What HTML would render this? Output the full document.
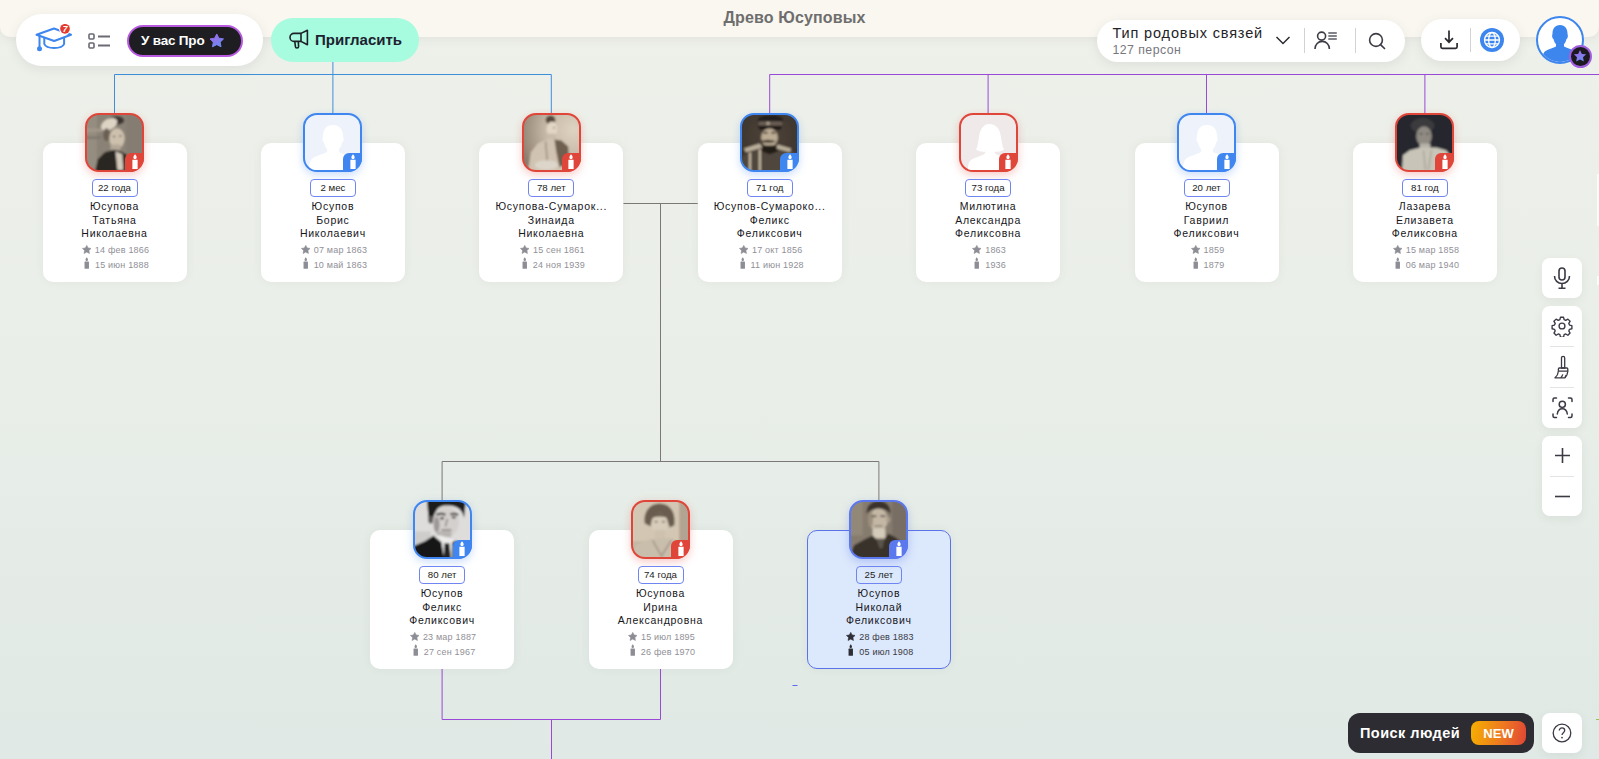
<!DOCTYPE html>
<html><head><meta charset="utf-8">
<style>
*{margin:0;padding:0;box-sizing:border-box}
html,body{width:1599px;height:759px;overflow:hidden}
body{position:relative;font-family:"Liberation Sans", sans-serif;background:linear-gradient(180deg,#eef0ea 0,#ebefe9 40%,#e0e9e5 100%);color:#1c1c22}
.abs{position:absolute}
#band{position:absolute;left:0;top:0;width:1599px;height:37px;background:#f9f7f0;border-radius:0 0 10px 10px;box-shadow:0 2px 10px rgba(120,120,100,.10)}
svg.lines{position:absolute;left:0;top:0}
svg.lines path{fill:none;stroke-width:1}
.card{position:absolute;width:144px;height:139px;background:#fff;border-radius:10px;box-shadow:0 0 10px rgba(90,100,90,.07)}
.card.sel{background:#dce8fc;border:1.5px solid #5b73ea}
.av{position:absolute;width:59px;height:59px;border:2px solid;border-radius:14px;overflow:hidden;background:#fff}
.ph{position:absolute;left:0;top:0;width:100%;height:100%}
.ph svg.sil{left:-2px!important;top:-2px!important}
.cb{position:absolute;width:19px;height:19px;border-radius:6px 0 14px 0}
.age{position:absolute;width:144px;height:17.5px;text-align:center;font-size:0;line-height:0}
.age span{display:inline-block;width:46px;height:17.5px;line-height:15.5px;padding:0;border:1px solid #6f86f2;border-radius:4px;font-size:9.7px;color:#1c1c22;background:#fff}
.nm{position:absolute;width:144px;text-align:center;font-size:10.5px;line-height:13.5px;letter-spacing:.75px;color:#16161b;white-space:nowrap}
.dt{position:absolute;width:144px;padding-left:2px;text-align:center;font-size:9px;letter-spacing:.2px;line-height:13px;color:#909097;white-space:nowrap}
.dt .ic{display:inline-block;vertical-align:-1px;margin-right:3.5px;color:#8d8d95}
.dt.dk{color:#3a3a44}
.dt.dk .ic{color:#2e2e36}
.pill{position:absolute;background:#fff;box-shadow:0 3px 12px rgba(80,90,80,.10)}
.tool{position:absolute;left:1542px;width:40px;background:#fff;border-radius:8px;box-shadow:0 3px 10px rgba(80,90,80,.08)}
.sep{position:absolute;left:8px;width:24px;height:1px;background:#e3e3e6}
</style></head><body>
<div id="band"></div>
<svg class="lines" width="1599" height="759">
<path d="M114.5 113V74.5H551.3V113M332.9 60V113" stroke="#3d8fda"/>
<path d="M769.7 113V74.5H1600M988.1 74.5V113M1206.5 74.5V113M1424.9 74.5V113" stroke="#9a49d6"/>
<path d="M623.5 203.5H697.7M660.5 203.5V461.5M442.1 500V461.5H878.9V500" stroke="#7d7878"/>
<path d="M442.1 669V719.5H660.5V669M551.5 719.5V760" stroke="#9a49d6"/>
<path d="M792.5 685.5H797.5" stroke="#5a6cf0"/>
</svg>
<div class="card" style="left:42.5px;top:143px"></div>
<div class="av" style="left:85.00px;top:113px;border-color:#e0453a;background:#e0453a;box-shadow:0 3px 9px rgba(224,69,58,.28)"><div class="ph"><svg width="100%" height="100%" viewBox="0 0 56 56" preserveAspectRatio="none" style="position:absolute;left:0;top:0"><defs><filter id="bp1" x="-10%" y="-10%" width="120%" height="120%"><feGaussianBlur stdDeviation="0.85"/></filter></defs><g filter="url(#bp1)"><rect x="-4" y="-4" width="64" height="64" fill="#8a8276"/><rect x="-4" y="-4" width="14" height="64" fill="#958d80"/><rect x="-4" y="14" width="20" height="3" fill="#a49a8c"/><rect x="-4" y="22" width="18" height="2" fill="#7a7268"/><rect x="40" y="-4" width="20" height="64" fill="#857d72"/><ellipse cx="30" cy="5.5" rx="8" ry="4.5" fill="#3e3630"/><ellipse cx="22.5" cy="9.5" rx="9" ry="5.5" transform="rotate(-28 22.5 9.5)" fill="#ddd4c4"/><ellipse cx="20" cy="20" rx="3.5" ry="6.5" fill="#6a5e52"/><ellipse cx="30.5" cy="24" rx="7.8" ry="10.5" fill="#cdc1ae"/><ellipse cx="27.5" cy="22" rx="1.3" ry=".8" fill="#5a5048"/><ellipse cx="34" cy="21.5" rx="1.3" ry=".8" fill="#5a5048"/><rect x="24" y="30" width="10" height="6" fill="#b4a898"/><path d="M8 58L11 45L18 38L27 35.5L34 37L40 40L44 47L45 58Z" fill="#2c2520"/><path d="M29 37L36 40L37 56L31 56L30 46Z" fill="#d3cabb"/></g></svg></div></div><div class="cb" style="left:125.00px;top:153px;background:#e0453a"><svg width="8" height="15" viewBox="0 0 6 12" style="position:absolute;left:5.5px;top:0.8px"><path d="M3 0.2c1 1.1 1.4 1.9 1.3 2.7-.1.7-.6 1.1-1.3 1.1S1.8 3.6 1.7 2.9C1.6 2.1 2.1 1.3 3 .2z" fill="#fff"/><rect x="0.9" y="4.6" width="4.2" height="7.4" fill="#fff"/></svg></div>
<div class="age" style="left:42.5px;top:179px"><span>22 года</span></div>
<div class="nm" style="left:42.5px;top:200px">Юсупова<br>Татьяна<br>Николаевна</div>
<div class="dt" style="left:42.5px;top:244px"><svg class="ic" width="9.5" height="9.5" viewBox="0 0 24 24"><path d="M12 1l3.4 6.6 7.4 1.1-5.4 5.2 1.3 7.4L12 17.8l-6.7 3.5 1.3-7.4-5.4-5.2 7.4-1.1z" fill="currentColor" stroke="currentColor" stroke-width="1.6" stroke-linejoin="round"/></svg><span>14 фев 1866</span></div>
<div class="dt" style="left:42.5px;top:256.5px"><svg class="ic" width="9.5" height="12" viewBox="-1.75 0 9.5 12"><path d="M3 0.3c.9 1 1.3 1.8 1.2 2.6-.1.7-.6 1.1-1.2 1.1S1.9 3.6 1.8 2.9C1.7 2.2 2.2 1.3 3 .3z" fill="currentColor"/><rect x="0.8" y="4.6" width="4.4" height="7.2" rx=".6" fill="currentColor"/></svg><span>15 июн 1888</span></div>
<div class="card" style="left:260.9px;top:143px"></div>
<div class="av" style="left:303.40px;top:113px;border-color:#3f86f0;background:#3f86f0;box-shadow:0 3px 9px rgba(63,134,240,.28)"><div class="ph" style="background:#eef3fb"><svg class="sil" width="60" height="60" viewBox="0 0 60 60" style="position:absolute;left:0;top:0"><path d="M30 12c6.5 0 10 4.8 10 11 0 1.5.9 1.7.6 3.8-.3 2-1 2.3-1.5 2.6-.7 3.2-1.8 5.3-3.1 6.6v3c2.8 1.9 8.5 3 12.5 5 3.5 1.8 5.6 4 6.1 16H5.5c.5-12 2.6-14.2 6.1-16 4-2 9.7-3.1 12.5-5v-3c-1.3-1.3-2.4-3.4-3.1-6.6-.5-.3-1.2-.6-1.5-2.6-.3-2.1.6-2.3.6-3.8C20 16.8 23.5 12 30 12z" fill="#fff"/></svg></div></div><div class="cb" style="left:343.40px;top:153px;background:#3f86f0"><svg width="8" height="15" viewBox="0 0 6 12" style="position:absolute;left:5.5px;top:0.8px"><path d="M3 0.2c1 1.1 1.4 1.9 1.3 2.7-.1.7-.6 1.1-1.3 1.1S1.8 3.6 1.7 2.9C1.6 2.1 2.1 1.3 3 .2z" fill="#fff"/><rect x="0.9" y="4.6" width="4.2" height="7.4" fill="#fff"/></svg></div>
<div class="age" style="left:260.9px;top:179px"><span>2 мес</span></div>
<div class="nm" style="left:260.9px;top:200px">Юсупов<br>Борис<br>Николаевич</div>
<div class="dt" style="left:260.9px;top:244px"><svg class="ic" width="9.5" height="9.5" viewBox="0 0 24 24"><path d="M12 1l3.4 6.6 7.4 1.1-5.4 5.2 1.3 7.4L12 17.8l-6.7 3.5 1.3-7.4-5.4-5.2 7.4-1.1z" fill="currentColor" stroke="currentColor" stroke-width="1.6" stroke-linejoin="round"/></svg><span>07 мар 1863</span></div>
<div class="dt" style="left:260.9px;top:256.5px"><svg class="ic" width="9.5" height="12" viewBox="-1.75 0 9.5 12"><path d="M3 0.3c.9 1 1.3 1.8 1.2 2.6-.1.7-.6 1.1-1.2 1.1S1.9 3.6 1.8 2.9C1.7 2.2 2.2 1.3 3 .3z" fill="currentColor"/><rect x="0.8" y="4.6" width="4.4" height="7.2" rx=".6" fill="currentColor"/></svg><span>10 май 1863</span></div>
<div class="card" style="left:479.3px;top:143px"></div>
<div class="av" style="left:521.80px;top:113px;border-color:#e0453a;background:#e0453a;box-shadow:0 3px 9px rgba(224,69,58,.28)"><div class="ph"><svg width="100%" height="100%" viewBox="0 0 56 56" preserveAspectRatio="none" style="position:absolute;left:0;top:0"><defs><filter id="bp3" x="-10%" y="-10%" width="120%" height="120%"><feGaussianBlur stdDeviation="0.85"/></filter></defs><g filter="url(#bp3)"><defs><radialGradient id="g3" cx="0.85" cy="0.3" r="0.9"><stop offset="0" stop-color="#dfd3c2"/><stop offset=".5" stop-color="#c6b8a6"/><stop offset="1" stop-color="#8a7b6c"/></radialGradient></defs><rect x="-4" y="-4" width="64" height="64" fill="url(#g3)"/><ellipse cx="27" cy="5" rx="5" ry="4.5" fill="#54473b"/><ellipse cx="28.5" cy="14.5" rx="5.5" ry="8" fill="#e2d6c4"/><ellipse cx="30.5" cy="13" rx="1" ry=".7" fill="#7a6c5e"/><rect x="24" y="19" width="8" height="8" fill="#c9bca9"/><path d="M4 58L7 38L14 29L25 24L37 25L45 32L46 58Z" fill="#d0c3b1"/><path d="M31 25L38 26L45 32L46 50L36 53L33 38Z" fill="#6e5e50"/><path d="M22 27L24 50" stroke="#9e8e7e" stroke-width="1.5"/><ellipse cx="23" cy="51" rx="12" ry="5" fill="#ddd5ca"/></g></svg></div></div><div class="cb" style="left:561.80px;top:153px;background:#e0453a"><svg width="8" height="15" viewBox="0 0 6 12" style="position:absolute;left:5.5px;top:0.8px"><path d="M3 0.2c1 1.1 1.4 1.9 1.3 2.7-.1.7-.6 1.1-1.3 1.1S1.8 3.6 1.7 2.9C1.6 2.1 2.1 1.3 3 .2z" fill="#fff"/><rect x="0.9" y="4.6" width="4.2" height="7.4" fill="#fff"/></svg></div>
<div class="age" style="left:479.3px;top:179px"><span>78 лет</span></div>
<div class="nm" style="left:479.3px;top:200px">Юсупова-Сумарок...<br>Зинаида<br>Николаевна</div>
<div class="dt" style="left:479.3px;top:244px"><svg class="ic" width="9.5" height="9.5" viewBox="0 0 24 24"><path d="M12 1l3.4 6.6 7.4 1.1-5.4 5.2 1.3 7.4L12 17.8l-6.7 3.5 1.3-7.4-5.4-5.2 7.4-1.1z" fill="currentColor" stroke="currentColor" stroke-width="1.6" stroke-linejoin="round"/></svg><span>15 сен 1861</span></div>
<div class="dt" style="left:479.3px;top:256.5px"><svg class="ic" width="9.5" height="12" viewBox="-1.75 0 9.5 12"><path d="M3 0.3c.9 1 1.3 1.8 1.2 2.6-.1.7-.6 1.1-1.2 1.1S1.9 3.6 1.8 2.9C1.7 2.2 2.2 1.3 3 .3z" fill="currentColor"/><rect x="0.8" y="4.6" width="4.4" height="7.2" rx=".6" fill="currentColor"/></svg><span>24 ноя 1939</span></div>
<div class="card" style="left:697.7px;top:143px"></div>
<div class="av" style="left:740.20px;top:113px;border-color:#3f86f0;background:#3f86f0;box-shadow:0 3px 9px rgba(63,134,240,.28)"><div class="ph"><svg width="100%" height="100%" viewBox="0 0 56 56" preserveAspectRatio="none" style="position:absolute;left:0;top:0"><defs><filter id="bp4" x="-10%" y="-10%" width="120%" height="120%"><feGaussianBlur stdDeviation="0.85"/></filter></defs><g filter="url(#bp4)"><defs><radialGradient id="g4" cx="0.5" cy="0.4" r="0.8"><stop offset="0" stop-color="#4e443a"/><stop offset="1" stop-color="#352d27"/></radialGradient></defs><rect x="-4" y="-4" width="64" height="64" fill="url(#g4)"/><path d="M-2 58L0 42L14 34L27 32L42 33L56 39L58 58Z" fill="#50463c"/><ellipse cx="29" cy="5" rx="13" ry="5" fill="#241f1b"/><rect x="17" y="6.5" width="24" height="4.5" fill="#6a5e54"/><circle cx="26.5" cy="8.5" r="1.6" fill="#b8ac98"/><path d="M16 11H41L39 15H18Z" fill="#1b1713"/><ellipse cx="28" cy="23" rx="8.5" ry="9.5" fill="#bcac94"/><ellipse cx="24" cy="18" rx="2.5" ry="1" fill="#4a3e34"/><ellipse cx="32" cy="18" rx="2.5" ry="1" fill="#4a3e34"/><path d="M18 27Q26 23.5 35 27Q27 29.5 18 27Z" fill="#3a3028"/><path d="M20 31L36 31L37 37L28 40L20 37Z" fill="#201a16"/><path d="M2 34L18 29L21 33L4 38Z" fill="#bcb09b"/><path d="M36 30L50 34L49 38L35 34Z" fill="#bcb09b"/><rect x="7" y="38" width="2.3" height="19" fill="#c4b7a3"/><rect x="17" y="35" width="2.3" height="22" fill="#c4b7a3"/></g></svg></div></div><div class="cb" style="left:780.20px;top:153px;background:#3f86f0"><svg width="8" height="15" viewBox="0 0 6 12" style="position:absolute;left:5.5px;top:0.8px"><path d="M3 0.2c1 1.1 1.4 1.9 1.3 2.7-.1.7-.6 1.1-1.3 1.1S1.8 3.6 1.7 2.9C1.6 2.1 2.1 1.3 3 .2z" fill="#fff"/><rect x="0.9" y="4.6" width="4.2" height="7.4" fill="#fff"/></svg></div>
<div class="age" style="left:697.7px;top:179px"><span>71 год</span></div>
<div class="nm" style="left:697.7px;top:200px">Юсупов-Сумароко...<br>Феликс<br>Феликсович</div>
<div class="dt" style="left:697.7px;top:244px"><svg class="ic" width="9.5" height="9.5" viewBox="0 0 24 24"><path d="M12 1l3.4 6.6 7.4 1.1-5.4 5.2 1.3 7.4L12 17.8l-6.7 3.5 1.3-7.4-5.4-5.2 7.4-1.1z" fill="currentColor" stroke="currentColor" stroke-width="1.6" stroke-linejoin="round"/></svg><span>17 окт 1856</span></div>
<div class="dt" style="left:697.7px;top:256.5px"><svg class="ic" width="9.5" height="12" viewBox="-1.75 0 9.5 12"><path d="M3 0.3c.9 1 1.3 1.8 1.2 2.6-.1.7-.6 1.1-1.2 1.1S1.9 3.6 1.8 2.9C1.7 2.2 2.2 1.3 3 .3z" fill="currentColor"/><rect x="0.8" y="4.6" width="4.4" height="7.2" rx=".6" fill="currentColor"/></svg><span>11 июн 1928</span></div>
<div class="card" style="left:916.1px;top:143px"></div>
<div class="av" style="left:958.60px;top:113px;border-color:#e0453a;background:#e0453a;box-shadow:0 3px 9px rgba(224,69,58,.28)"><div class="ph" style="background:#f0e9ea"><svg class="sil" width="60" height="60" viewBox="0 0 60 60" style="position:absolute;left:0;top:0"><path d="M30 11c7.5 0 11 5.5 12 13 .8 5.5 1.5 10 3 12.5-2.5 2-6.5 2.3-9.5 2.3.3 1.5 1 2.2 2.5 3 3.5 1.6 9 3 12 5.3 2.5 2 3 5 3.2 14H8.8c.2-9 .7-12 3.2-14 3-2.3 8.5-3.7 12-5.3 1.5-.8 2.2-1.5 2.5-3-3 0-7-.3-9.5-2.3 1.5-2.5 2.2-7 3-12.5 1-7.5 4.5-13 10-13z" fill="#fff"/></svg></div></div><div class="cb" style="left:998.60px;top:153px;background:#e0453a"><svg width="8" height="15" viewBox="0 0 6 12" style="position:absolute;left:5.5px;top:0.8px"><path d="M3 0.2c1 1.1 1.4 1.9 1.3 2.7-.1.7-.6 1.1-1.3 1.1S1.8 3.6 1.7 2.9C1.6 2.1 2.1 1.3 3 .2z" fill="#fff"/><rect x="0.9" y="4.6" width="4.2" height="7.4" fill="#fff"/></svg></div>
<div class="age" style="left:916.1px;top:179px"><span>73 года</span></div>
<div class="nm" style="left:916.1px;top:200px">Милютина<br>Александра<br>Феликсовна</div>
<div class="dt" style="left:916.1px;top:244px"><svg class="ic" width="9.5" height="9.5" viewBox="0 0 24 24"><path d="M12 1l3.4 6.6 7.4 1.1-5.4 5.2 1.3 7.4L12 17.8l-6.7 3.5 1.3-7.4-5.4-5.2 7.4-1.1z" fill="currentColor" stroke="currentColor" stroke-width="1.6" stroke-linejoin="round"/></svg><span>1863</span></div>
<div class="dt" style="left:916.1px;top:256.5px"><svg class="ic" width="9.5" height="12" viewBox="-1.75 0 9.5 12"><path d="M3 0.3c.9 1 1.3 1.8 1.2 2.6-.1.7-.6 1.1-1.2 1.1S1.9 3.6 1.8 2.9C1.7 2.2 2.2 1.3 3 .3z" fill="currentColor"/><rect x="0.8" y="4.6" width="4.4" height="7.2" rx=".6" fill="currentColor"/></svg><span>1936</span></div>
<div class="card" style="left:1134.5px;top:143px"></div>
<div class="av" style="left:1177.00px;top:113px;border-color:#3f86f0;background:#3f86f0;box-shadow:0 3px 9px rgba(63,134,240,.28)"><div class="ph" style="background:#eef3fb"><svg class="sil" width="60" height="60" viewBox="0 0 60 60" style="position:absolute;left:0;top:0"><path d="M30 12c6.5 0 10 4.8 10 11 0 1.5.9 1.7.6 3.8-.3 2-1 2.3-1.5 2.6-.7 3.2-1.8 5.3-3.1 6.6v3c2.8 1.9 8.5 3 12.5 5 3.5 1.8 5.6 4 6.1 16H5.5c.5-12 2.6-14.2 6.1-16 4-2 9.7-3.1 12.5-5v-3c-1.3-1.3-2.4-3.4-3.1-6.6-.5-.3-1.2-.6-1.5-2.6-.3-2.1.6-2.3.6-3.8C20 16.8 23.5 12 30 12z" fill="#fff"/></svg></div></div><div class="cb" style="left:1217.00px;top:153px;background:#3f86f0"><svg width="8" height="15" viewBox="0 0 6 12" style="position:absolute;left:5.5px;top:0.8px"><path d="M3 0.2c1 1.1 1.4 1.9 1.3 2.7-.1.7-.6 1.1-1.3 1.1S1.8 3.6 1.7 2.9C1.6 2.1 2.1 1.3 3 .2z" fill="#fff"/><rect x="0.9" y="4.6" width="4.2" height="7.4" fill="#fff"/></svg></div>
<div class="age" style="left:1134.5px;top:179px"><span>20 лет</span></div>
<div class="nm" style="left:1134.5px;top:200px">Юсупов<br>Гавриил<br>Феликсович</div>
<div class="dt" style="left:1134.5px;top:244px"><svg class="ic" width="9.5" height="9.5" viewBox="0 0 24 24"><path d="M12 1l3.4 6.6 7.4 1.1-5.4 5.2 1.3 7.4L12 17.8l-6.7 3.5 1.3-7.4-5.4-5.2 7.4-1.1z" fill="currentColor" stroke="currentColor" stroke-width="1.6" stroke-linejoin="round"/></svg><span>1859</span></div>
<div class="dt" style="left:1134.5px;top:256.5px"><svg class="ic" width="9.5" height="12" viewBox="-1.75 0 9.5 12"><path d="M3 0.3c.9 1 1.3 1.8 1.2 2.6-.1.7-.6 1.1-1.2 1.1S1.9 3.6 1.8 2.9C1.7 2.2 2.2 1.3 3 .3z" fill="currentColor"/><rect x="0.8" y="4.6" width="4.4" height="7.2" rx=".6" fill="currentColor"/></svg><span>1879</span></div>
<div class="card" style="left:1352.9px;top:143px"></div>
<div class="av" style="left:1395.40px;top:113px;border-color:#e0453a;background:#e0453a;box-shadow:0 3px 9px rgba(224,69,58,.28)"><div class="ph"><svg width="100%" height="100%" viewBox="0 0 56 56" preserveAspectRatio="none" style="position:absolute;left:0;top:0"><defs><filter id="bp7" x="-10%" y="-10%" width="120%" height="120%"><feGaussianBlur stdDeviation="0.85"/></filter></defs><g filter="url(#bp7)"><rect x="-4" y="-4" width="64" height="64" fill="#25282f"/><ellipse cx="26" cy="11" rx="12" ry="8" fill="#3a3a3c"/><ellipse cx="27.5" cy="21.5" rx="8" ry="10" fill="#8f8a82"/><ellipse cx="24.5" cy="19" rx="1.6" ry=".8" fill="#4a4642"/><ellipse cx="31" cy="19" rx="1.6" ry=".8" fill="#4a4642"/><rect x="23" y="29" width="11" height="8" fill="#b6b2a8"/><path d="M5 58L6 41L13 36L24 33L40 33L50 36L54 41L54 58Z" fill="#c8c4b8"/><path d="M27 36L29 56M35 36L32 56" stroke="#9a968c" stroke-width="1"/></g></svg></div></div><div class="cb" style="left:1435.40px;top:153px;background:#e0453a"><svg width="8" height="15" viewBox="0 0 6 12" style="position:absolute;left:5.5px;top:0.8px"><path d="M3 0.2c1 1.1 1.4 1.9 1.3 2.7-.1.7-.6 1.1-1.3 1.1S1.8 3.6 1.7 2.9C1.6 2.1 2.1 1.3 3 .2z" fill="#fff"/><rect x="0.9" y="4.6" width="4.2" height="7.4" fill="#fff"/></svg></div>
<div class="age" style="left:1352.9px;top:179px"><span>81 год</span></div>
<div class="nm" style="left:1352.9px;top:200px">Лазарева<br>Елизавета<br>Феликсовна</div>
<div class="dt" style="left:1352.9px;top:244px"><svg class="ic" width="9.5" height="9.5" viewBox="0 0 24 24"><path d="M12 1l3.4 6.6 7.4 1.1-5.4 5.2 1.3 7.4L12 17.8l-6.7 3.5 1.3-7.4-5.4-5.2 7.4-1.1z" fill="currentColor" stroke="currentColor" stroke-width="1.6" stroke-linejoin="round"/></svg><span>15 мар 1858</span></div>
<div class="dt" style="left:1352.9px;top:256.5px"><svg class="ic" width="9.5" height="12" viewBox="-1.75 0 9.5 12"><path d="M3 0.3c.9 1 1.3 1.8 1.2 2.6-.1.7-.6 1.1-1.2 1.1S1.9 3.6 1.8 2.9C1.7 2.2 2.2 1.3 3 .3z" fill="currentColor"/><rect x="0.8" y="4.6" width="4.4" height="7.2" rx=".6" fill="currentColor"/></svg><span>06 мар 1940</span></div>
<div class="card" style="left:370.1px;top:530px"></div>
<div class="av" style="left:412.60px;top:500px;border-color:#3f86f0;background:#3f86f0;box-shadow:0 3px 9px rgba(63,134,240,.28)"><div class="ph"><svg width="100%" height="100%" viewBox="0 0 56 56" preserveAspectRatio="none" style="position:absolute;left:0;top:0"><defs><filter id="bp8" x="-10%" y="-10%" width="120%" height="120%"><feGaussianBlur stdDeviation="0.85"/></filter></defs><g filter="url(#bp8)"><rect x="-4" y="-4" width="64" height="64" fill="#dfdddc"/><rect x="-4" y="30" width="20" height="30" fill="#cfcdcc"/><path d="M12 -3L52 -3L50 16C48 8 44 3.5 32 3.5C24 3.5 20 8 18 20L14 19Z" fill="#1c1a1a"/><ellipse cx="16" cy="18" rx="2.5" ry="4" fill="#5e5a5a"/><ellipse cx="32" cy="20" rx="13" ry="15.5" fill="#d4d0ce"/><ellipse cx="22" cy="23" rx="3" ry="8" fill="#9c9897"/><path d="M22 13Q27 11 31 13M36 12.5Q40 11 44 13" stroke="#2a2626" stroke-width="2" fill="none"/><ellipse cx="27.5" cy="16.5" rx="2" ry="1.2" fill="#3a3636"/><ellipse cx="39.5" cy="15.5" rx="2" ry="1.2" fill="#4a4646"/><path d="M33 17L31 25" stroke="#8a8686" stroke-width="1.5"/><path d="M27 28.5H37" stroke="#6a6666" stroke-width="1.2"/><rect x="22" y="30" width="15" height="6" fill="#b8b4b2"/><path d="M-2 58L-2 45L10 40L19 34L27 40L30 58Z" fill="#131313"/><path d="M19 34L26 34L40 38L42 40L40 58L30 58L27 41Z" fill="#ecebea"/><path d="M38 41L42 39L44 58L38 58Z" fill="#131313"/><path d="M30 42L35 42L37 58L29 58Z" fill="#242222"/></g></svg></div></div><div class="cb" style="left:452.60px;top:540px;background:#3f86f0"><svg width="8" height="15" viewBox="0 0 6 12" style="position:absolute;left:5.5px;top:0.8px"><path d="M3 0.2c1 1.1 1.4 1.9 1.3 2.7-.1.7-.6 1.1-1.3 1.1S1.8 3.6 1.7 2.9C1.6 2.1 2.1 1.3 3 .2z" fill="#fff"/><rect x="0.9" y="4.6" width="4.2" height="7.4" fill="#fff"/></svg></div>
<div class="age" style="left:370.1px;top:566px"><span>80 лет</span></div>
<div class="nm" style="left:370.1px;top:587px">Юсупов<br>Феликс<br>Феликсович</div>
<div class="dt" style="left:370.1px;top:631px"><svg class="ic" width="9.5" height="9.5" viewBox="0 0 24 24"><path d="M12 1l3.4 6.6 7.4 1.1-5.4 5.2 1.3 7.4L12 17.8l-6.7 3.5 1.3-7.4-5.4-5.2 7.4-1.1z" fill="currentColor" stroke="currentColor" stroke-width="1.6" stroke-linejoin="round"/></svg><span>23 мар 1887</span></div>
<div class="dt" style="left:370.1px;top:643.5px"><svg class="ic" width="9.5" height="12" viewBox="-1.75 0 9.5 12"><path d="M3 0.3c.9 1 1.3 1.8 1.2 2.6-.1.7-.6 1.1-1.2 1.1S1.9 3.6 1.8 2.9C1.7 2.2 2.2 1.3 3 .3z" fill="currentColor"/><rect x="0.8" y="4.6" width="4.4" height="7.2" rx=".6" fill="currentColor"/></svg><span>27 сен 1967</span></div>
<div class="card" style="left:588.5px;top:530px"></div>
<div class="av" style="left:631.00px;top:500px;border-color:#e0453a;background:#e0453a;box-shadow:0 3px 9px rgba(224,69,58,.28)"><div class="ph"><svg width="100%" height="100%" viewBox="0 0 56 56" preserveAspectRatio="none" style="position:absolute;left:0;top:0"><defs><filter id="bp9" x="-10%" y="-10%" width="120%" height="120%"><feGaussianBlur stdDeviation="0.85"/></filter></defs><g filter="url(#bp9)"><rect x="-4" y="-4" width="64" height="64" fill="#d3c7b4"/><rect x="47" y="-4" width="13" height="64" fill="#b2a492"/><rect x="-4" y="40" width="20" height="20" fill="#c2b6a3"/><path d="M12 22C10 12 16 1.5 27 1.5C38 1.5 44 11 42 24L37 26C36 19 33 15 27 15C21 15 19 19 18 25Z" fill="#6a5d4f"/><ellipse cx="27" cy="22" rx="8.5" ry="11" fill="#d8ccba"/><path d="M17 15C20 10 34 10 38 15L36 17C32 14 22 14 19 17Z" fill="#6a5d4f"/><ellipse cx="23.5" cy="20" rx="1.6" ry=".9" fill="#7a6e62"/><ellipse cx="31" cy="20" rx="1.6" ry=".9" fill="#7a6e62"/><rect x="22" y="28" width="11" height="10" fill="#cec2af"/><path d="M0 58L2 44L16 38L40 37L54 44L58 58Z" fill="#c9bdab"/><path d="M20 39L29 55L39 39" fill="none" stroke="#a4968a" stroke-width="1.6"/></g></svg></div></div><div class="cb" style="left:671.00px;top:540px;background:#e0453a"><svg width="8" height="15" viewBox="0 0 6 12" style="position:absolute;left:5.5px;top:0.8px"><path d="M3 0.2c1 1.1 1.4 1.9 1.3 2.7-.1.7-.6 1.1-1.3 1.1S1.8 3.6 1.7 2.9C1.6 2.1 2.1 1.3 3 .2z" fill="#fff"/><rect x="0.9" y="4.6" width="4.2" height="7.4" fill="#fff"/></svg></div>
<div class="age" style="left:588.5px;top:566px"><span>74 года</span></div>
<div class="nm" style="left:588.5px;top:587px">Юсупова<br>Ирина<br>Александровна</div>
<div class="dt" style="left:588.5px;top:631px"><svg class="ic" width="9.5" height="9.5" viewBox="0 0 24 24"><path d="M12 1l3.4 6.6 7.4 1.1-5.4 5.2 1.3 7.4L12 17.8l-6.7 3.5 1.3-7.4-5.4-5.2 7.4-1.1z" fill="currentColor" stroke="currentColor" stroke-width="1.6" stroke-linejoin="round"/></svg><span>15 июл 1895</span></div>
<div class="dt" style="left:588.5px;top:643.5px"><svg class="ic" width="9.5" height="12" viewBox="-1.75 0 9.5 12"><path d="M3 0.3c.9 1 1.3 1.8 1.2 2.6-.1.7-.6 1.1-1.2 1.1S1.9 3.6 1.8 2.9C1.7 2.2 2.2 1.3 3 .3z" fill="currentColor"/><rect x="0.8" y="4.6" width="4.4" height="7.2" rx=".6" fill="currentColor"/></svg><span>26 фев 1970</span></div>
<div class="card sel" style="left:806.9px;top:530px"></div>
<div class="av" style="left:849.40px;top:500px;border-color:#5b78ee;background:#5b78ee;box-shadow:0 3px 9px rgba(91,120,238,.35)"><div class="ph"><svg width="100%" height="100%" viewBox="0 0 56 56" preserveAspectRatio="none" style="position:absolute;left:0;top:0"><defs><filter id="bp10" x="-10%" y="-10%" width="120%" height="120%"><feGaussianBlur stdDeviation="0.85"/></filter></defs><g filter="url(#bp10)"><rect x="-4" y="-4" width="64" height="64" fill="#867c6e"/><rect x="-4" y="-4" width="16" height="38" fill="#928879"/><rect x="42" y="-4" width="18" height="64" fill="#786e63"/><path d="M16 12C15 4 21 -1 28 -1C36 -1 41 4 40 12L37 9C33 6 23 6 19 9Z" fill="#3a332d"/><ellipse cx="28" cy="18" rx="9.5" ry="11.5" fill="#c4b8a5"/><ellipse cx="38" cy="18" rx="2" ry="3" fill="#a89c8a"/><ellipse cx="20" cy="18" rx="2.5" ry="8" fill="#9c907e"/><path d="M21 14.5H26M30 14.5H35" stroke="#4a4038" stroke-width="1.5"/><path d="M24 24.5H32" stroke="#6a5e52" stroke-width="1"/><rect x="22" y="27" width="13" height="10" fill="#d4cbba"/><path d="M-2 58L3 44L14 38L22 34L27 39L30 47L34 38L38 32L45 36L53 42L58 58Z" fill="#38322c"/><path d="M26 38L34 38L32 47L29 47Z" fill="#5a544c"/></g></svg></div></div><div class="cb" style="left:889.40px;top:540px;background:#5b78ee"><svg width="8" height="15" viewBox="0 0 6 12" style="position:absolute;left:5.5px;top:0.8px"><path d="M3 0.2c1 1.1 1.4 1.9 1.3 2.7-.1.7-.6 1.1-1.3 1.1S1.8 3.6 1.7 2.9C1.6 2.1 2.1 1.3 3 .2z" fill="#fff"/><rect x="0.9" y="4.6" width="4.2" height="7.4" fill="#fff"/></svg></div>
<div class="age" style="left:806.9px;top:566px"><span style=background:transparent>25 лет</span></div>
<div class="nm" style="left:806.9px;top:587px">Юсупов<br>Николай<br>Феликсович</div>
<div class="dt dk" style="left:806.9px;top:631px"><svg class="ic" width="9.5" height="9.5" viewBox="0 0 24 24"><path d="M12 1l3.4 6.6 7.4 1.1-5.4 5.2 1.3 7.4L12 17.8l-6.7 3.5 1.3-7.4-5.4-5.2 7.4-1.1z" fill="currentColor" stroke="currentColor" stroke-width="1.6" stroke-linejoin="round"/></svg><span>28 фев 1883</span></div>
<div class="dt dk" style="left:806.9px;top:643.5px"><svg class="ic" width="9.5" height="12" viewBox="-1.75 0 9.5 12"><path d="M3 0.3c.9 1 1.3 1.8 1.2 2.6-.1.7-.6 1.1-1.2 1.1S1.9 3.6 1.8 2.9C1.7 2.2 2.2 1.3 3 .3z" fill="currentColor"/><rect x="0.8" y="4.6" width="4.4" height="7.2" rx=".6" fill="currentColor"/></svg><span>05 июл 1908</span></div>

<!-- header title -->
<div class="abs" style="left:0;top:9px;width:1589px;text-align:center;font-size:16px;font-weight:bold;color:#6e6e6e;letter-spacing:.15px">Древо Юсуповых</div>

<!-- left pill -->
<div class="pill" style="left:16px;top:14px;width:247px;height:52px;border-radius:26px"></div>
<svg class="abs" style="left:34px;top:24px" width="42" height="30" viewBox="0 0 42 30">
  <g fill="none" stroke="#3d86ee" stroke-width="2" stroke-linejoin="round" stroke-linecap="round"><path d="M2.5 10.8L20 4.5l17 6.3-16.8 6.2z"/>
  <path d="M10.3 14v6c1 2.5 5 4 9.9 4s8.9-1.5 9.9-4v-6"/>
  <path d="M5.5 11.5v12"/></g>
  <circle cx="5.5" cy="24.8" r="2.5" fill="#3d86ee"/>
  <circle cx="31" cy="4.8" r="6" fill="#fff"/>
  <circle cx="31" cy="4.8" r="4.85" fill="#e33b2f"/>
  <text x="31" y="8.3" text-anchor="middle" font-family="Liberation Sans" font-weight="bold" font-style="italic" font-size="8.5" fill="#fff">7</text>
</svg>
<svg class="abs" style="left:88px;top:33px" width="23" height="17" viewBox="0 0 23 17">
  <rect x="1" y="1" width="5" height="5" rx="1" fill="none" stroke="#6a6a74" stroke-width="1.6"/>
  <rect x="1" y="10" width="5" height="5" rx="1" fill="none" stroke="#6a6a74" stroke-width="1.6"/>
  <path d="M10 3.5h12M10 12.5h12" stroke="#6a6a74" stroke-width="1.8"/>
</svg>
<div class="abs" style="left:127px;top:25px;width:116px;height:31.5px;border-radius:16px;background:#1e1d22;border:2px solid #b85ae0"></div>
<div class="abs" style="left:141px;top:33px;font-size:13.5px;font-weight:bold;color:#fff;letter-spacing:-.2px">У вас Про</div>
<svg class="abs" style="left:209px;top:33px" width="15.5" height="15.5" viewBox="0 0 24 24"><defs><linearGradient id="sg" x1="0" y1="0" x2=".6" y2="1"><stop offset="0" stop-color="#a763e6"/><stop offset="1" stop-color="#6f8af2"/></linearGradient></defs><path d="M12 1.5l3.3 6.6 7.2 1-5.2 5.1 1.3 7.2L12 18l-6.6 3.4 1.3-7.2-5.2-5.1 7.2-1z" fill="url(#sg)" stroke="url(#sg)" stroke-width="1.5" stroke-linejoin="round"/></svg>

<!-- invite -->
<div class="abs" style="left:271px;top:18px;width:148px;height:44px;border-radius:22px;background:#a7fbdf"></div>
<svg class="abs" style="left:289px;top:29px" width="21" height="21" viewBox="0 0 21 21">
  <g fill="none" stroke="#1d2126" stroke-width="1.6" stroke-linejoin="round"><path d="M5 4.4H12V12.4H5A4 4 0 0 1 5 4.4z"/><path d="M12 4.4L18.4 1.3V15.8L12 12.4"/><path d="M5.8 12.6L6.4 17.4A1.6 1.6 0 0 0 9.6 17.4L9.3 12.6"/></g>
</svg>
<div class="abs" style="left:315px;top:31px;font-size:15px;font-weight:bold;color:#1d2230">Пригласить</div>

<!-- right header pill -->
<div class="pill" style="left:1097px;top:20px;width:308px;height:42px;border-radius:21px"></div>
<div class="abs" style="left:1112.5px;top:25.2px;font-size:14.5px;letter-spacing:.85px;color:#232328;white-space:nowrap">Тип родовых связей</div>
<div class="abs" style="left:1112.5px;top:43px;font-size:12.3px;letter-spacing:.45px;color:#77777e;white-space:nowrap">127 персон</div>
<svg class="abs" style="left:1275px;top:35px" width="16" height="11" viewBox="0 0 16 11"><path d="M1.5 2l6.5 6.5L14.5 2" fill="none" stroke="#2a2a30" stroke-width="1.5"/></svg>
<div class="abs" style="left:1304px;top:28px;width:1px;height:25px;background:#d2d2d6"></div>
<svg class="abs" style="left:1313px;top:30px" width="26" height="20" viewBox="0 0 26 20">
  <circle cx="8.6" cy="6.1" r="4" fill="none" stroke="#3c3c46" stroke-width="1.6"/>
  <path d="M2 19c0-4.6 3.2-7.6 7.2-7.6s7.2 3 7.2 7.6" fill="none" stroke="#3c3c46" stroke-width="1.6"/>
  <path d="M15.3 3h8.5M15.3 6h8.5M15.3 9h8.5" stroke="#5a5a64" stroke-width="1.7"/>
</svg>
<div class="abs" style="left:1355px;top:28px;width:1px;height:25px;background:#d2d2d6"></div>
<svg class="abs" style="left:1367px;top:32px" width="19" height="18" viewBox="0 0 19 18"><circle cx="9" cy="8" r="6.4" fill="none" stroke="#3c3c46" stroke-width="1.6"/><path d="M13.5 12.7l4 3.8" stroke="#3c3c46" stroke-width="1.7" stroke-linecap="round"/></svg>

<div class="pill" style="left:1421px;top:19px;width:99px;height:42px;border-radius:21px"></div>
<svg class="abs" style="left:1439px;top:29px" width="21" height="21" viewBox="0 0 21 21">
  <path d="M10 1.5v11.5M6 9.2l4 4 4-4" fill="none" stroke="#2a2a30" stroke-width="1.7"/>
  <path d="M1.9 14v3.8q0 1.5 1.5 1.5h13.2q1.5 0 1.5-1.5V14" fill="none" stroke="#2a2a30" stroke-width="1.7"/>
</svg>
<div class="abs" style="left:1470px;top:27.5px;width:1px;height:24.5px;background:#d2d2d6"></div>
<svg class="abs" style="left:1480px;top:28px" width="24" height="24" viewBox="0 0 24 24">
  <circle cx="12" cy="12" r="12" fill="#3d86ee"/>
  <g fill="none" stroke="#fff" stroke-width="1.3"><circle cx="12" cy="12" r="7.5"/><ellipse cx="12" cy="12" rx="3.3" ry="7.5"/><path d="M4.5 12h15M5.5 8.2h13M5.5 15.8h13"/></g>
</svg>

<!-- user avatar -->
<div class="abs" style="left:1536px;top:16px;width:48px;height:48px;border-radius:50%;border:2px solid #3d86ee;background:#fff;overflow:hidden">
  <svg width="44" height="44" viewBox="0 0 44 44" style="position:absolute;left:0;top:0"><path d="M22 7c5 0 7.5 3.8 7.5 8.5 0 1.3.6 1.5.3 3.2-.3 1.8-.9 2-1.3 2.3-.6 2.6-1.5 4.2-2.5 5.2v2.3c2.5 1.6 7 2.5 10 4.2 2.5 1.4 3.5 3.5 4 11.3H4c.5-7.8 1.5-9.9 4-11.3 3-1.7 7.5-2.6 10-4.2v-2.3c-1-1-1.9-2.6-2.5-5.2-.4-.3-1-.5-1.3-2.3-.3-1.7.3-1.9.3-3.2C14.5 10.8 17 7 22 7z" fill="#3d86ee"/></svg>
</div>
<div class="abs" style="left:1568.5px;top:44.5px;width:23px;height:23px;border-radius:50%;background:#1c1a20;border:2px solid #a25ee0"></div>
<svg class="abs" style="left:1573px;top:49px" width="14" height="14" viewBox="0 0 24 24"><path d="M12 1.5l3.2 6.9 7.3.8-5.4 5 1.5 7.4L12 17.9l-6.6 3.7 1.5-7.4-5.4-5 7.3-.8z" fill="url(#sg)"/></svg>

<!-- right tools -->
<div class="tool" style="top:258px;height:40px"></div>
<svg class="abs" style="left:1552px;top:266px" width="20" height="24" viewBox="0 0 20 24">
  <rect x="7" y="2" width="6" height="12" rx="3" fill="none" stroke="#3a3a44" stroke-width="1.6"/>
  <path d="M2.5 10c0 4.5 3.3 7.5 7.5 7.5s7.5-3 7.5-7.5M10 17.5v4.5M6.5 22.3h7" fill="none" stroke="#3a3a44" stroke-width="1.6"/>
</svg>
<div class="tool" style="top:306px;height:122px"></div>
<div class="sep" style="left:1550px;top:346px"></div>
<div class="sep" style="left:1550px;top:387px"></div>
<svg class="abs" style="left:1551px;top:315px" width="22" height="22" viewBox="0 0 24 24"><path d="M10.3 2.5h3.4l.6 2.6 1.8.8 2.3-1.4 2.4 2.4-1.4 2.3.8 1.8 2.6.6v3.4l-2.6.6-.8 1.8 1.4 2.3-2.4 2.4-2.3-1.4-1.8.8-.6 2.6h-3.4l-.6-2.6-1.8-.8-2.3 1.4-2.4-2.4 1.4-2.3-.8-1.8-2.6-.6v-3.4l2.6-.6.8-1.8-1.4-2.3 2.4-2.4 2.3 1.4 1.8-.8z" fill="none" stroke="#3a3a44" stroke-width="1.5" stroke-linejoin="round"/><circle cx="12" cy="12" r="3.2" fill="none" stroke="#3a3a44" stroke-width="1.5"/></svg>
<svg class="abs" style="left:1553px;top:355px" width="18" height="25" viewBox="0 0 18 25"><g fill="none" stroke="#3a3a44" stroke-width="1.3" stroke-linejoin="round"><path d="M10.1 1.3c.9 0 1.6.7 1.6 1.6V13H8.5V2.9c0-.9.7-1.6 1.6-1.6z"/><path d="M6.3 13h7.6c.5 0 .9.4.9.9v2.3H5.4v-2.3c0-.5.4-.9.9-.9z"/><path d="M5.4 16.2c-.3 3-1.5 5.1-3.4 6.6h10c1.8-1.6 2.6-3.8 2.8-6.6"/><path d="M7.8 22.8c1-1 1.6-2.2 2-3.4M11.8 22.6c.7-.8 1.1-1.7 1.3-2.7"/></g></svg>
<svg class="abs" style="left:1552px;top:397px" width="21" height="22" viewBox="0 0 21 22"><g fill="none" stroke="#3a3a44" stroke-width="1.5" stroke-linecap="round"><path d="M1 4.5V2.5Q1 1 2.5 1H4.5M16.5 1h2Q20 1 20 2.5V4.5M20 17v2q0 1.5-1.5 1.5H16.5M4.5 20.5H2.5Q1 20.5 1 19V17"/><circle cx="10.3" cy="7.3" r="3.1"/><path d="M5.3 17c.4-3.3 2.3-5.3 5-5.3s4.6 2 5 5.3"/></g></svg>
<div class="tool" style="top:436px;height:80px"></div>
<div class="sep" style="left:1550px;top:476px"></div>
<svg class="abs" style="left:1554px;top:447px" width="17" height="17" viewBox="0 0 17 17"><path d="M8.5 1v15M1 8.5h15" stroke="#3a3a44" stroke-width="1.6"/></svg>
<svg class="abs" style="left:1554px;top:488px" width="17" height="17" viewBox="0 0 17 17"><path d="M1 8.5h15" stroke="#3a3a44" stroke-width="1.6"/></svg>

<!-- bottom right -->
<div class="abs" style="left:1348px;top:713px;width:186px;height:40px;border-radius:12px;background:#2d2c32"></div>
<div class="abs" style="left:1360px;top:724.5px;font-size:14.5px;letter-spacing:.45px;font-weight:bold;color:#fff;white-space:nowrap">Поиск людей</div>
<div class="abs" style="left:1471px;top:721px;width:55px;height:24px;border-radius:8px;background:linear-gradient(100deg,#f5b000 0,#ee7a20 55%,#e04535 100%)"></div>
<div class="abs" style="left:1471px;top:726px;width:55px;text-align:center;font-size:13px;font-weight:bold;color:#fff">NEW</div>
<div class="tool" style="top:713px;height:40px;border-radius:8px"></div>
<svg class="abs" style="left:1552px;top:723px" width="20" height="20" viewBox="0 0 20 20"><circle cx="10" cy="10" r="8.8" fill="none" stroke="#3a3a44" stroke-width="1.3"/><path d="M7.3 7.6c0-1.6 1.2-2.7 2.7-2.7s2.7 1.1 2.7 2.6c0 2.2-2.7 2.3-2.7 4.6" fill="none" stroke="#3a3a44" stroke-width="1.3"/><circle cx="10" cy="14.6" r=".9" fill="#3a3a44"/></svg>
<div class="abs" style="left:1596px;top:719px;width:3px;height:1px;background:#8cc850"></div>
<div class="abs" style="left:1597px;top:174px;width:2px;height:52px;background:#fbfcfa"></div>
<div class="abs" style="left:1597px;top:276px;width:2px;height:9px;background:#fbfcfa"></div>
</body></html>
